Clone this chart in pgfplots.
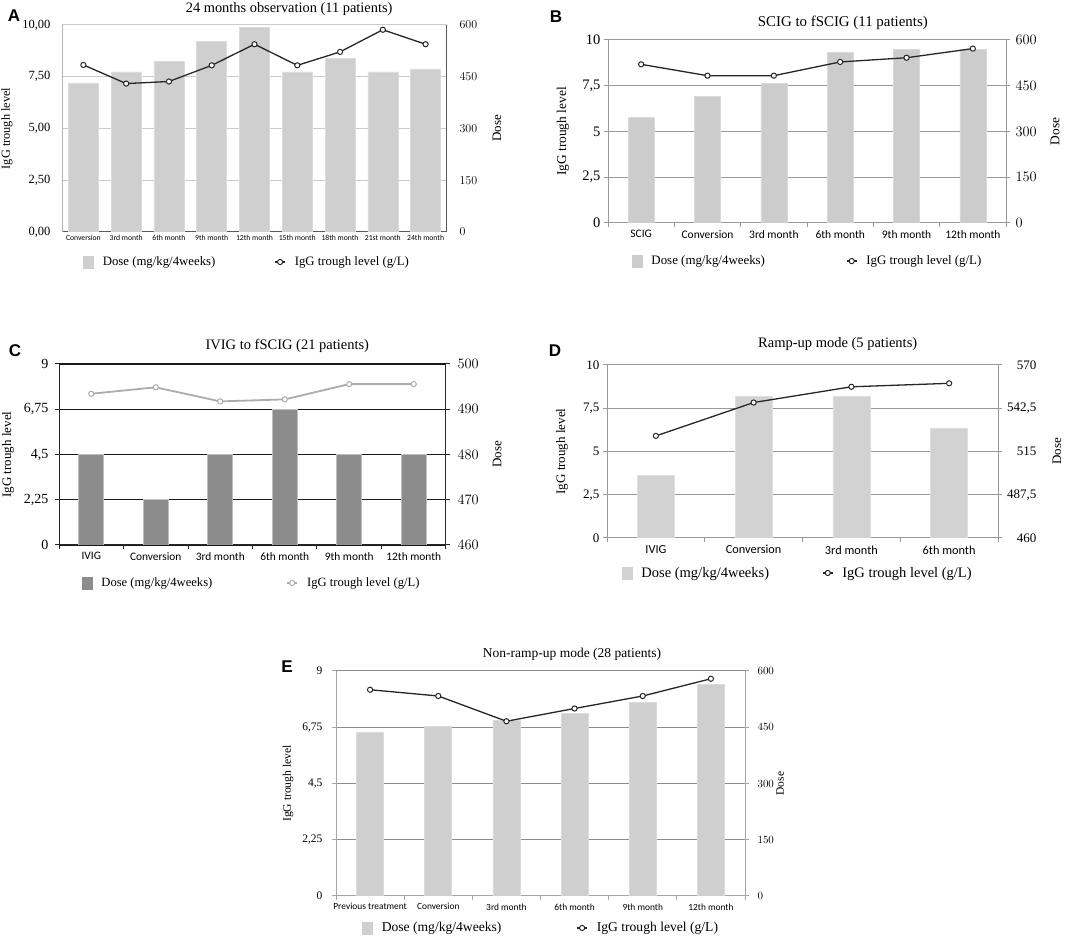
\documentclass[border=0pt]{standalone}
\usepackage{fontspec}
\setmainfont{Liberation Serif}
\newfontfamily\carlito{Carlito}
\newfontfamily\lsans{Liberation Sans}
\usepackage{pgfplots}
\usepackage{pgfplotstable}
\pgfplotsset{compat=1.18}

\pgfplotstableread{
x dose igg
0 432 8.07
1 464 7.17
2 495 7.27
3 553 8.05
4 592 9.07
5 464 8.05
6 503 8.70
7 464 9.77
8 473 9.07
}\dataA
\pgfplotstableread{
x dose igg
0 346 8.67
1 416 8.05
2 458 8.05
3 559 8.80
4 569 9.03
5 569 9.53
}\dataB
\pgfplotstableread{
x dose igg
0 480 7.52
1 470 7.84
2 480 7.14
3 490 7.24
4 480 8.00
5 480 8.00
}\dataC
\pgfplotstableread{
x dose igg
0 500 5.90
1 550 7.83
2 550 8.74
3 530 8.94
}\dataD
\pgfplotstableread{
x dose igg
0 437 8.25
1 453 8.00
2 469 6.99
3 487 7.50
4 517 8.00
5 565 8.69
}\dataE

\def\fs#1{\fontsize{#1}{#1}\selectfont}

\pgfplotsset{
  panel/.style={scale only axis, anchor=south west, clip=true},
  ylab/.style 2 args={every axis y label/.style={at={(axis description cs:#1,0.5)}, rotate=90, anchor=center, font=\fs{#2}}},
  ttl/.style n args={4}{title={#1}, every axis title/.style={at={(axis description cs:#2,1)}, anchor=base, yshift=#3, font=\fs{#4}}},
  leg/.style n args={3}{legend columns=2, legend cell align=left,
    legend style={at={(axis description cs:#1)}, anchor=west, draw=none, fill=none, inner sep=0pt,
      font=\fs{#3}, /tikz/every odd column/.append style={column sep=7pt},
      /tikz/every even column/.append style={column sep=#2}}},
  igg/.style={draw=black!85, line width=1.3pt, mark=*, mark size=2.6pt,
    mark options={fill=white, draw=black!85, line width=1pt, solid}},
  iggC/.style={draw=gray!65, line width=1.8pt, mark=*, mark size=2.6pt,
    mark options={fill=white, draw=gray!65, line width=1pt, solid}},
  lineleg/.style={legend image code/.code={\draw[mark repeat=2,mark phase=2,##1] plot coordinates {(0pt,0pt) (5pt,0pt) (10pt,0pt)};}},
}
\newcommand{\barleg}[1]{\addlegendimage{legend image code/.code={\fill[#1] (0pt,-6pt) rectangle (10pt,6pt);}}}

\begin{document}
\begin{tikzpicture}
\path[use as bounding box] (0,0) rectangle (1074pt,937pt);

% ---------------- Panel A ----------------
\begin{axis}[panel, at={(62pt,705pt)}, width=385pt, height=207pt,
  xmin=-0.5, xmax=8.5, ymin=0, ymax=600, ytick={0,150,300,450,600},
  axis x line*=bottom, axis y line*=right,
  axis line style={draw=black!65, line width=1pt},
  ymajorgrids, grid style={draw=gray!40, line width=1pt},
  major tick length=0pt,
  xtick={0,...,8},
  xticklabels={Conversion,3rd month,6th month,9th month,12th month,15th month,18th month,21st month,24th month},
  xticklabel style={font=\carlito\fs{7.7}},
  yticklabel style={font=\fs{12.5}, xshift=9pt},
  ylabel={Dose}, ylab={1.13}{13},
  ttl={24 months observation (11 patients)}{0.59}{12pt}{14.4},
  leg={0.055,-0.145}{57pt}{12.8},
]
\addplot[ybar, bar width=30pt, fill=gray!38, draw=gray!28, line width=0.6pt, forget plot] table[x=x,y=dose]{\dataA};
\barleg{gray!38}
\addlegendentry{Dose (mg/kg/4weeks)}
\addlegendimage{igg, lineleg}
\addlegendentry{IgG trough level (g/L)}
\end{axis}
\begin{axis}[panel, at={(62pt,705pt)}, width=385pt, height=207pt,
  xmin=-0.5, xmax=8.5, ymin=0, ymax=10, ytick={0,2.5,5,7.5,10},
  yticklabels={{0,00},{2,50},{5,00},{7,50},{10,00}},
  axis x line=none, axis y line*=left,
  axis line style={draw=gray!60, line width=1pt},
  major tick length=0pt,
  yticklabel style={font=\fs{12.5}, xshift=-8pt},
  ylabel={IgG trough level}, ylab={-0.143}{12.3},
]
\addplot[igg] table[x=x,y=igg]{\dataA};
\end{axis}

% ---------------- Panel B ----------------
\begin{axis}[panel, at={(608pt,714pt)}, width=398pt, height=183pt,
  xmin=-0.5, xmax=5.5, ymin=0, ymax=600, ytick={0,150,300,450,600},
  axis x line*=bottom, axis y line*=right,
  axis line style={draw=black!40, line width=1pt},
  ymajorgrids, grid style={draw=black!40, line width=1pt},
  tick align=outside, major tick length=4pt, tick style={draw=black!40, line width=1pt},
  xtick={-0.5,0.5,...,5.5},
  xticklabels={SCIG,Conversion,3rd month,6th month,9th month,12th month,{}},
  xticklabel style={font=\carlito\fs{11.5}, xshift=33.2pt},
  yticklabel style={font=\fs{14.5}, xshift=2pt},
  ylabel={Dose}, ylab={1.123}{13.4},
  ttl={SCIG to fSCIG (11 patients)}{0.59}{13pt}{14.9},
  leg={0.06,-0.208}{79pt}{12.9},
]
\addplot[ybar, bar width=26pt, fill=gray!40, draw=gray!30, line width=0.6pt, forget plot] table[x=x,y=dose]{\dataB};
\barleg{gray!40}
\addlegendentry{Dose (mg/kg/4weeks)}
\addlegendimage{igg, lineleg}
\addlegendentry{IgG trough level (g/L)}
\end{axis}
\begin{axis}[panel, at={(608pt,714pt)}, width=398pt, height=183pt,
  xmin=-0.5, xmax=5.5, ymin=0, ymax=10, ytick={0,2.5,5,7.5,10},
  yticklabels={{0},{2,5},{5},{7,5},{10}},
  axis x line=none, axis y line*=left,
  axis line style={draw=black!40, line width=1pt},
  tick align=outside, major tick length=4pt, tick style={draw=black!40, line width=1pt},
  yticklabel style={font=\fs{14.5}},
  ylabel={IgG trough level}, ylab={-0.113}{13.4},
]
\addplot[igg] table[x=x,y=igg]{\dataB};
\end{axis}

% ---------------- Panel C ----------------
\begin{axis}[panel, at={(59pt,392pt)}, width=387pt, height=181pt,
  xmin=-0.5, xmax=5.5, ymin=460, ymax=500, ytick={460,470,480,490,500},
  axis x line*=bottom, axis y line*=right,
  axis line style={draw=black!85, line width=1pt},
  ymajorgrids, grid style={draw=black!90, line width=1.2pt},
  tick align=outside, major tick length=4pt, tick style={draw=black!85, line width=1pt},
  xtick={-0.5,0.5,...,5.5},
  xticklabels={IVIG,Conversion,3rd month,6th month,9th month,12th month,{}},
  xticklabel style={font=\carlito\fs{11.4}, xshift=32.25pt},
  yticklabel style={font=\fs{14}, xshift=4pt},
  ylabel={Dose}, ylab={1.132}{13},
  ttl={IVIG to fSCIG (21 patients)}{0.59}{14pt}{14.5},
  leg={0.059,-0.21}{72pt}{12.6},
]
\addplot[ybar, bar width=25pt, fill=black!45, draw=gray!50, line width=0.8pt, forget plot] table[x=x,y=dose]{\dataC};
\barleg{black!45}
\addlegendentry{Dose (mg/kg/4weeks)}
\addlegendimage{iggC, lineleg}
\addlegendentry{IgG trough level (g/L)}
\end{axis}
\begin{axis}[panel, at={(59pt,392pt)}, width=387pt, height=181pt,
  xmin=-0.5, xmax=5.5, ymin=0, ymax=9, ytick={0,2.25,4.5,6.75,9},
  yticklabels={{0},{2,25},{4,5},{6,75},{9}},
  axis x line=none, axis y line*=left,
  axis line style={draw=black!85, line width=1pt},
  tick align=outside, major tick length=4pt, tick style={draw=black!85, line width=1pt},
  yticklabel style={font=\fs{14}, xshift=-3pt},
  ylabel={IgG trough level}, ylab={-0.132}{13},
]
\addplot[iggC] table[x=x,y=igg]{\dataC};
\end{axis}

% ---------------- Panel D ----------------
\begin{axis}[panel, at={(607pt,399pt)}, width=391pt, height=173pt,
  xmin=-0.5, xmax=3.5, ymin=460, ymax=570, ytick={460,487.5,515,542.5,570},
  yticklabels={{460},{487,5},{515},{542,5},{570}},
  axis x line*=bottom, axis y line*=right,
  axis line style={draw=black!40, line width=1pt},
  ymajorgrids, grid style={draw=black!40, line width=1pt},
  tick align=outside, major tick length=4pt, tick style={draw=black!40, line width=1pt},
  xtick={-0.5,0.5,...,3.5},
  xticklabels={IVIG,Conversion,3rd month,6th month,{}},
  xticklabel style={font=\carlito\fs{12.3}, xshift=48.9pt},
  yticklabel style={font=\fs{13}, anchor=east, xshift=38pt},
  ylabel={Dose}, ylab={1.151}{13},
  ttl={Ramp-up mode (5 patients)}{0.59}{17pt}{14.5},
  leg={0.038,-0.202}{51pt}{14.5},
]
\addplot[ybar, bar width=37pt, fill=gray!35, draw=gray!25, line width=0.6pt, forget plot] table[x=x,y=dose]{\dataD};
\barleg{gray!35}
\addlegendentry{Dose (mg/kg/4weeks)}
\addlegendimage{igg, lineleg}
\addlegendentry{IgG trough level (g/L)}
\end{axis}
\begin{axis}[panel, at={(607pt,399pt)}, width=391pt, height=173pt,
  xmin=-0.5, xmax=3.5, ymin=0, ymax=10, ytick={0,2.5,5,7.5,10},
  yticklabels={{0},{2,5},{5},{7,5},{10}},
  axis x line=none, axis y line*=left,
  axis line style={draw=black!40, line width=1pt},
  tick align=outside, major tick length=4pt, tick style={draw=black!40, line width=1pt},
  yticklabel style={font=\fs{13}},
  ylabel={IgG trough level}, ylab={-0.115}{13},
]
\addplot[igg] table[x=x,y=igg]{\dataD};
\end{axis}

% ---------------- Panel E ----------------
\begin{axis}[panel, at={(336pt,41pt)}, width=409pt, height=225pt,
  xmin=-0.5, xmax=5.5, ymin=0, ymax=600, ytick={0,150,300,450,600},
  axis x line*=bottom, axis y line*=right,
  axis line style={draw=black!35, line width=1pt},
  ymajorgrids, grid style={draw=black!45, line width=1pt},
  tick align=outside, major tick length=4pt, tick style={draw=black!35, line width=1pt},
  xtick={-0.5,0.5,...,5.5},
  xticklabels={Previous treatment,Conversion,3rd month,6th month,9th month,12th month,{}},
  xticklabel style={font=\carlito\fs{9.4}, xshift=34.1pt},
  yticklabel style={font=\fs{11}, xshift=5pt},
  ylabel={Dose}, ylab={1.086}{11.5},
  ttl={Non-ramp-up mode (28 patients)}{0.577}{13pt}{13.5},
  leg={0.064,-0.142}{73pt}{13.6},
]
\addplot[ybar, bar width=27pt, fill=gray!38, draw=gray!28, line width=0.6pt, forget plot] table[x=x,y=dose]{\dataE};
\barleg{gray!38}
\addlegendentry{Dose (mg/kg/4weeks)}
\addlegendimage{igg, lineleg}
\addlegendentry{IgG trough level (g/L)}
\end{axis}
\begin{axis}[panel, at={(336pt,41pt)}, width=409pt, height=225pt,
  xmin=-0.5, xmax=5.5, ymin=0, ymax=9, ytick={0,2.25,4.5,6.75,9},
  yticklabels={{0},{2,25},{4,5},{6,75},{9}},
  axis x line=none, axis y line*=left,
  axis line style={draw=black!35, line width=1pt},
  tick align=outside, major tick length=4pt, tick style={draw=black!35, line width=1pt},
  yticklabel style={font=\fs{11.5}, xshift=-6pt},
  ylabel={IgG trough level}, ylab={-0.117}{11.6},
]
\addplot[igg] table[x=x,y=igg]{\dataE};
\end{axis}

% panel letters
\node[font=\lsans\bfseries\fs{17}] at (14pt,921pt) {A};
\node[font=\lsans\bfseries\fs{17}] at (556pt,920pt) {B};
\node[font=\lsans\bfseries\fs{17}] at (15pt,586pt) {C};
\node[font=\lsans\bfseries\fs{17}] at (555pt,586pt) {D};
\node[font=\lsans\bfseries\fs{17}] at (287pt,270pt) {E};
\end{tikzpicture}
\end{document}
